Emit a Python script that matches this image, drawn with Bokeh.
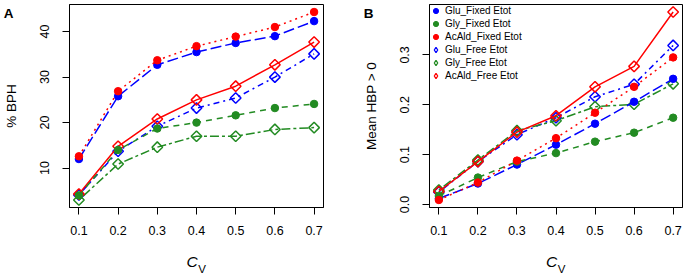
import math
from bokeh.plotting import figure
from bokeh.layouts import row
from bokeh.models import Range1d, FixedTicker, Legend, LegendItem, LinearAxis
from bokeh.embed import file_html
from bokeh.resources import INLINE

# ---------------- data ----------------
cv = [0.1, 0.2, 0.3, 0.4, 0.5, 0.6, 0.7]
x_tick_labels = ["0.1", "0.2", "0.3", "0.4", "0.5", "0.6", "0.7"]

series_names = ["Glu_Fixed Etot", "Gly_Fixed Etot", "AcAld_Fixed Etot",
                "Glu_Free Etot", "Gly_Free Etot", "AcAld_Free Etot"]

# Panel A: % BPH
bph_glu_fixed = [12.0, 25.8, 32.7, 35.5, 37.5, 39.0, 42.3]
bph_gly_fixed = [4.0, 14.0, 18.7, 20.0, 21.6, 23.2, 24.1]
bph_acald_fixed = [12.6, 26.9, 33.7, 36.8, 38.9, 41.0, 44.3]
bph_glu_free = [4.1, 13.7, 19.2, 23.2, 25.4, 30.0, 35.1]
bph_gly_free = [3.0, 10.9, 14.6, 17.0, 17.0, 18.5, 18.9]
bph_acald_free = [4.3, 14.8, 20.8, 25.0, 28.0, 32.7, 37.7]
a_y_ticks = [10, 20, 30, 40]
a_y_tick_labels = ["10", "20", "30", "40"]

# Panel B: Mean HBP > 0
hbp_glu_fixed = [0.012, 0.042, 0.080, 0.120, 0.162, 0.206, 0.252]
hbp_gly_fixed = [0.017, 0.054, 0.086, 0.103, 0.126, 0.144, 0.174]
hbp_acald_fixed = [0.009, 0.044, 0.088, 0.133, 0.184, 0.236, 0.295]
hbp_glu_free = [0.025, 0.086, 0.140, 0.174, 0.216, 0.241, 0.319]
hbp_gly_free = [0.029, 0.089, 0.148, 0.168, 0.196, 0.201, 0.242]
hbp_acald_free = [0.026, 0.086, 0.145, 0.178, 0.236, 0.277, 0.386]
b_y_ticks = [0.0, 0.1, 0.2, 0.3]
b_y_tick_labels = ["0.0", "0.1", "0.2", "0.3"]

# ---------------- styles ----------------
BLUE = "#0000FF"
GREEN = "#228B22"
RED = "#FF0000"
FONT = "Liberation Sans"
styles = {
    "Glu_Fixed Etot": (BLUE, "11 4", "fixed"),
    "Gly_Fixed Etot": (GREEN, "6 5", "fixed"),
    "AcAld_Fixed Etot": (RED, "2 4", "fixed"),
    "Glu_Free Etot": (BLUE, "2 4 6 4", "free"),
    "Gly_Free Etot": (GREEN, "3 3 9 3", "free"),
    "AcAld_Free Etot": (RED, "solid", "free"),
}
draw_order = ["Glu_Free Etot", "Gly_Free Etot", "AcAld_Free Etot",
              "Glu_Fixed Etot", "Gly_Fixed Etot", "AcAld_Fixed Etot"]

FRAME_H = 203


def r_range(vals):
    lo, hi = min(vals), max(vals)
    pad = 0.04 * (hi - lo)
    return lo - pad, hi + pad


def text_axis(p, side, pos, text, size, style, standoff, horizontal=False):
    ax = LinearAxis(ticker=FixedTicker(ticks=[pos]),
                    major_label_overrides={pos: text})
    ax.axis_line_color = None
    ax.major_tick_line_color = None
    ax.minor_tick_line_color = None
    ax.major_tick_out = 0
    ax.major_tick_in = 0
    ax.major_label_standoff = standoff
    ax.major_label_text_font = FONT
    ax.major_label_text_font_size = size
    ax.major_label_text_font_style = style
    ax.major_label_text_color = "black"
    if horizontal:
        ax.major_label_orientation = "horizontal"
    p.add_layout(ax, side)
    return ax


def make_panel(letter, ylabel, data, yticks, ytick_labels, left_border,
               frame_w, right_border, show_legend):
    allv = [v for s in data.values() for v in s]
    ylo, yhi = r_range(allv)
    xlo, xhi = r_range(cv)
    p = figure(frame_width=frame_w, frame_height=FRAME_H,
               x_range=Range1d(xlo, xhi), y_range=Range1d(ylo, yhi),
               output_backend="svg", toolbar_location=None,
               min_border_left=left_border, min_border_right=right_border,
               min_border_top=4, min_border_bottom=68)
    p.xgrid.visible = False
    p.ygrid.visible = False
    p.outline_line_color = "black"
    p.outline_line_width = 1
    p.outline_line_alpha = 1
    p.background_fill_color = "white"
    p.border_fill_color = "white"

    for ax in (p.xaxis[0], p.yaxis[0]):
        ax.axis_line_color = "black"
        ax.major_tick_line_color = "black"
        ax.major_tick_out = 7
        ax.major_tick_in = 0
        ax.minor_tick_line_color = None
        ax.major_label_text_font = FONT
        ax.major_label_text_font_size = "12.5px"
        ax.major_label_text_color = "black"

    p.xaxis.ticker = FixedTicker(ticks=cv)
    p.xaxis.major_label_overrides = dict(zip(cv, x_tick_labels))
    p.xaxis.major_label_standoff = 11

    p.yaxis.ticker = FixedTicker(ticks=yticks)
    p.yaxis.major_label_overrides = dict(zip(yticks, ytick_labels))
    p.yaxis.major_label_orientation = "vertical"
    p.yaxis.major_label_standoff = 13
    p.yaxis.axis_label = ylabel
    p.yaxis.axis_label_text_font = FONT
    p.yaxis.axis_label_text_font_size = "13.5px"
    p.yaxis.axis_label_text_font_style = "normal"
    p.yaxis.axis_label_text_color = "black"
    p.yaxis.axis_label_standoff = 19

    scat = {}
    for name in draw_order:
        color, dash, kind = styles[name]
        p.line(cv, data[name], line_color=color, line_width=1.5, line_dash=dash)
        if kind == "fixed":
            r = p.scatter(cv, data[name], marker="circle", size=7.5,
                          fill_color=color, line_color=color, line_width=1)
        else:
            p.scatter(cv, data[name], marker="square", angle=math.pi / 4,
                      size=7.5, fill_color=None, line_color=color,
                      line_width=1.5)
            # legend-only twin (a diamond is not rotated inside a legend)
            r = p.scatter(cv, data[name], marker="diamond", size=8,
                          fill_color=None, line_color=color, line_width=1.3,
                          visible=False)
        scat[name] = r

    if show_legend:
        items = [LegendItem(label=n, renderers=[scat[n]]) for n in series_names]
        leg = Legend(items=items, location="top_left")
        leg.border_line_color = None
        leg.background_fill_alpha = 0
        leg.inactive_fill_alpha = 0
        leg.padding = 3
        leg.margin = 0
        leg.spacing = -2
        leg.label_height = 13
        leg.glyph_height = 13
        leg.glyph_width = 13
        leg.label_standoff = 3
        leg.label_text_font = FONT
        leg.label_text_font_size = "10px"
        leg.label_text_color = "black"
        leg.label_text_baseline = "middle"
        p.add_layout(leg)

    # x-axis title "C" with subscript "V"
    px = (xhi - xlo) / frame_w
    xmid = (xlo + xhi) / 2
    text_axis(p, "below", xmid - 4.5 * px, "C", "15.5px", "italic", 15)
    text_axis(p, "below", xmid + 5.5 * px, "V", "11.5px", "normal", -10)
    # panel letter
    py = (yhi - ylo) / FRAME_H
    text_axis(p, "left", yhi - 8.5 * py, letter, "13.5px", "bold", -13,
              horizontal=True)
    return p


data_a = {
    "Glu_Fixed Etot": bph_glu_fixed, "Gly_Fixed Etot": bph_gly_fixed,
    "AcAld_Fixed Etot": bph_acald_fixed, "Glu_Free Etot": bph_glu_free,
    "Gly_Free Etot": bph_gly_free, "AcAld_Free Etot": bph_acald_free,
}
data_b = {
    "Glu_Fixed Etot": hbp_glu_fixed, "Gly_Fixed Etot": hbp_gly_fixed,
    "AcAld_Fixed Etot": hbp_acald_fixed, "Glu_Free Etot": hbp_glu_free,
    "Gly_Free Etot": hbp_gly_free, "AcAld_Free Etot": hbp_acald_free,
}

pa = make_panel("A", "% BPH", data_a, a_y_ticks, a_y_tick_labels, 68, 254, 18, False)
pb = make_panel("B", "Mean HBP > 0", data_b, b_y_ticks, b_y_tick_labels, 88, 253, 5, True)

layout = row(pa, pb)
open("out.html", "w").write(file_html(layout, INLINE))
